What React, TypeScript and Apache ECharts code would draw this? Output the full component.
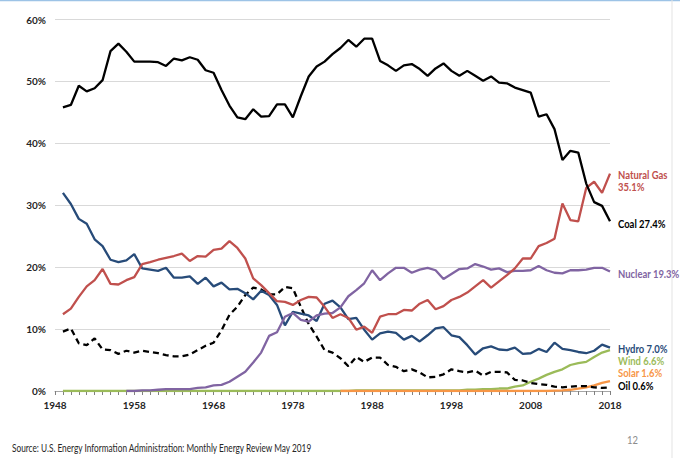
import React, { useRef, useEffect } from 'react';
import * as echarts from 'echarts';

const FONT = 'Lato, sans-serif';

// ─── Data (share of US electricity generation, %) ────────────────────────────
const YEARS = Array.from({ length: 70 }, (_, i) => 1949 + i);

const COAL = [
  45.8, 46.2, 49.3, 48.4, 48.9, 50.2, 54.9, 56.1, 54.8, 53.2,
  53.2, 53.2, 53.1, 52.5, 53.7, 53.4, 53.9, 53.5, 51.8, 51.4,
  48.6, 46.1, 44.2, 43.9, 45.5, 44.3, 44.4, 46.3, 46.3, 44.2,
  47.6, 50.8, 52.4, 53.2, 54.4, 55.4, 56.7, 55.6, 56.9, 56.9,
  53.3, 52.6, 51.7, 52.6, 52.8, 52.0, 50.9, 52.1, 52.9, 51.7,
  50.9, 51.7, 50.9, 50.1, 50.8, 49.8, 49.7, 49.0, 48.6, 48.2,
  44.3, 44.7, 42.3, 37.3, 38.8, 38.5, 33.5, 30.5, 29.9, 27.4,
];

const GAS = [
  12.4, 13.3, 15.2, 16.9, 17.9, 19.7, 17.3, 17.2, 17.9, 18.4,
  20.5, 20.8, 21.2, 21.5, 21.8, 22.2, 21.0, 21.8, 21.7, 22.8,
  23.0, 24.2, 23.1, 21.4, 18.2, 17.1, 15.8, 14.5, 14.4, 13.9,
  14.7, 15.2, 15.1, 13.6, 11.8, 12.4, 11.8, 9.9, 10.4, 9.4,
  12.0, 12.4, 12.4, 13.1, 13.0, 14.1, 14.7, 13.2, 13.7, 14.7,
  15.2, 15.9, 16.9, 17.9, 16.7, 17.7, 18.7, 19.8, 21.4, 21.4,
  23.4, 23.9, 24.6, 30.3, 27.6, 27.4, 32.8, 33.8, 32.0, 35.1,
];

const HYDRO = [
  32.0, 30.2, 27.8, 27.0, 24.5, 23.4, 21.2, 20.8, 21.1, 22.1,
  19.8, 19.6, 19.4, 19.9, 18.3, 18.3, 18.5, 17.3, 18.3, 16.9,
  17.5, 16.4, 16.5, 15.8, 14.8, 16.2, 15.5, 13.9, 10.6, 12.8,
  12.5, 12.2, 11.3, 14.1, 14.6, 13.5, 11.6, 11.8, 9.9, 8.3,
  9.3, 9.6, 9.4, 8.3, 8.9, 8.0, 9.0, 10.1, 10.3, 9.0,
  8.7, 7.4, 5.9, 6.9, 7.2, 6.7, 6.6, 7.0, 6.0, 6.1,
  6.8, 6.3, 7.8, 6.8, 6.6, 6.3, 6.1, 6.5, 7.5, 7.0,
];

const OIL = [
  9.6, 10.1, 7.7, 7.4, 8.5, 6.7, 6.6, 6.0, 6.5, 6.2,
  6.5, 6.3, 6.1, 5.8, 5.6, 5.6, 5.9, 6.6, 7.3, 7.8,
  9.8, 12.3, 13.6, 15.5, 16.7, 16.4, 15.6, 15.6, 16.8, 16.6,
  13.6, 10.8, 8.8, 6.6, 6.2, 5.3, 4.0, 5.5, 4.7, 5.4,
  5.4, 4.2, 3.9, 3.2, 3.5, 3.0, 2.2, 2.3, 2.7, 3.5,
  3.2, 3.0, 3.3, 2.5, 3.1, 3.1, 3.0, 1.8, 1.7, 1.3,
  1.1, 1.0, 0.7, 0.6, 0.7, 0.8, 0.8, 0.6, 0.5, 0.6,
];

const NUCLEAR = [
  null, null, null, null, null, null, null, null, 0.0, 0.0,
  0.1, 0.1, 0.2, 0.3, 0.3, 0.3, 0.3, 0.5, 0.6, 0.9,
  1.0, 1.5, 2.3, 3.1, 4.6, 6.2, 8.9, 9.5, 12.0, 12.6,
  11.5, 11.2, 12.2, 12.5, 12.6, 13.5, 15.3, 16.3, 17.4, 19.5,
  17.9, 19.0, 19.9, 19.9, 19.1, 19.6, 19.9, 19.5, 18.1, 18.9,
  19.7, 19.8, 20.5, 20.1, 19.6, 19.8, 19.2, 19.4, 19.4, 19.5,
  20.2, 19.5, 19.1, 19.0, 19.5, 19.5, 19.6, 19.9, 19.9, 19.3,
];

const WIND = [
  0, 0, 0, 0, 0, 0, 0, 0, 0, 0,
  0, 0, 0, 0, 0, 0, 0, 0, 0, 0,
  0, 0, 0, 0, 0, 0, 0, 0, 0, 0,
  0, 0, 0, 0, 0, 0, 0, 0.1, 0.1, 0.1,
  0.1, 0.1, 0.1, 0.1, 0.1, 0.1, 0.1, 0.1, 0.1, 0.1,
  0.1, 0.2, 0.2, 0.3, 0.3, 0.4, 0.4, 0.7, 0.9, 1.5,
  2.0, 2.6, 3.1, 3.5, 4.2, 4.5, 4.7, 5.5, 6.2, 6.6,
];

const SOLAR = [
  null, null, null, null, null, null, null, null, null, null,
  null, null, null, null, null, null, null, null, null, null,
  null, null, null, null, null, null, null, null, null, null,
  null, null, null, null, null, 0, 0, 0, 0, 0,
  0, 0, 0, 0, 0, 0, 0, 0, 0, 0,
  0, 0, 0, 0, 0, 0, 0, 0, 0, 0,
  0, 0, 0.05, 0.1, 0.2, 0.4, 0.6, 0.9, 1.3, 1.6,
];

const SERIES = [
  { name: 'Wind',        data: WIND,    color: '#9BBB59', dashed: false },
  { name: 'Solar',       data: SOLAR,   color: '#F79646', dashed: false },
  { name: 'Oil',         data: OIL,     color: '#000000', dashed: true  },
  { name: 'Hydro',       data: HYDRO,   color: '#274B79', dashed: false },
  { name: 'Nuclear',     data: NUCLEAR, color: '#8064A2', dashed: false },
  { name: 'Natural Gas', data: GAS,     color: '#C0504D', dashed: false },
  { name: 'Coal',        data: COAL,    color: '#000000', dashed: false },
];

// end labels: [text, color, y]
const END_LABELS: [string, string, number][] = [
  ['Natural Gas',   '#C0504D', 175],
  ['35.1%',         '#C0504D', 187],
  ['Coal 27.4%',    '#000000', 224],
  ['Nuclear 19.3%', '#8064A2', 274],
  ['Hydro 7.0%',    '#274B79', 349],
  ['Wind 6.6%',     '#9BBB59', 361],
  ['Solar 1.6%',    '#F79646', 373],
  ['Oil 0.6%',      '#000000', 386],
];

const SOURCE = 'Source: U.S. Energy Information Administration: Monthly Energy Review May 2019';

function getOption(): echarts.EChartsCoreOption {
  return {
    animation: false,
    backgroundColor: '#FFFFFF',
    grid: { left: 55, right: 70, top: 19.5, bottom: 67 },
    xAxis: {
      type: 'value',
      min: 1948,
      max: 2018,
      interval: 10,
      axisLine: { show: true, lineStyle: { color: '#A6A6A6', width: 1 } },
      axisTick: { show: true, length: 4, lineStyle: { color: '#808080' } },
      minorTick: { show: true, splitNumber: 10, length: 4, lineStyle: { color: '#808080' } },
      splitLine: { show: false },
      axisLabel: {
        margin: 9,
        fontFamily: FONT,
        fontSize: 10,
        fontWeight: 'bold',
        color: '#262626',
        formatter: (v: number) => String(v),
      },
    },
    yAxis: {
      type: 'value',
      min: 0,
      max: 60,
      interval: 10,
      axisLine: { show: false },
      axisTick: { show: false },
      splitLine: { lineStyle: { color: '#D9D9D9', width: 1 } },
      axisLabel: {
        margin: 9,
        fontFamily: FONT,
        fontSize: 10,
        fontWeight: 'bold',
        color: '#262626',
        formatter: (v: number) => `${v}%`,
      },
    },
    series: SERIES.map(s => ({
      type: 'line',
      name: s.name,
      data: YEARS.map((y, i) => [y, s.data[i]]),
      showSymbol: false,
      symbol: 'none',
      connectNulls: false,
      lineStyle: {
        color: s.color,
        width: 2.3,
        type: s.dashed ? [6, 4] : 'solid',
      },
    })),
    graphic: [
      { type: 'line', shape: { x1: 0, y1: 0.5, x2: 680, y2: 0.5 }, style: { stroke: '#9DC3E6', lineWidth: 1.5 } },
      { type: 'line', shape: { x1: 672, y1: 0, x2: 672, y2: 458 }, style: { stroke: '#E3E3E3', lineWidth: 1 } },
      ...END_LABELS.map(([text, color, y]) => ({
        type: 'text',
        x: 618,
        y,
        scaleX: 0.86,
        style: {
          text,
          fill: color,
          font: `bold 11px ${FONT}`,
          textVerticalAlign: 'middle',
        },
      })),
      {
        type: 'text',
        x: 12,
        y: 447,
        scaleX: 0.69,
        style: {
          text: SOURCE,
          fill: '#262626',
          font: `12px ${FONT}`,
          textVerticalAlign: 'middle',
        },
      },
      {
        type: 'text',
        x: 627,
        y: 440,
        scaleX: 0.86,
        style: {
          text: '12',
          fill: '#8C8C8C',
          font: `11px ${FONT}`,
          textVerticalAlign: 'middle',
        },
      },
    ],
  };
}

export default function App() {
  const ref = useRef<HTMLDivElement>(null);

  useEffect(() => {
    if (!ref.current) return;
    const chart = echarts.init(ref.current, undefined, { renderer: 'svg' });
    chart.setOption(getOption());
    return () => chart.dispose();
  }, []);

  return (
    <div
      ref={ref}
      style={{ position: 'absolute', left: 0, top: 0, width: 680, height: 458 }}
    />
  );
}
